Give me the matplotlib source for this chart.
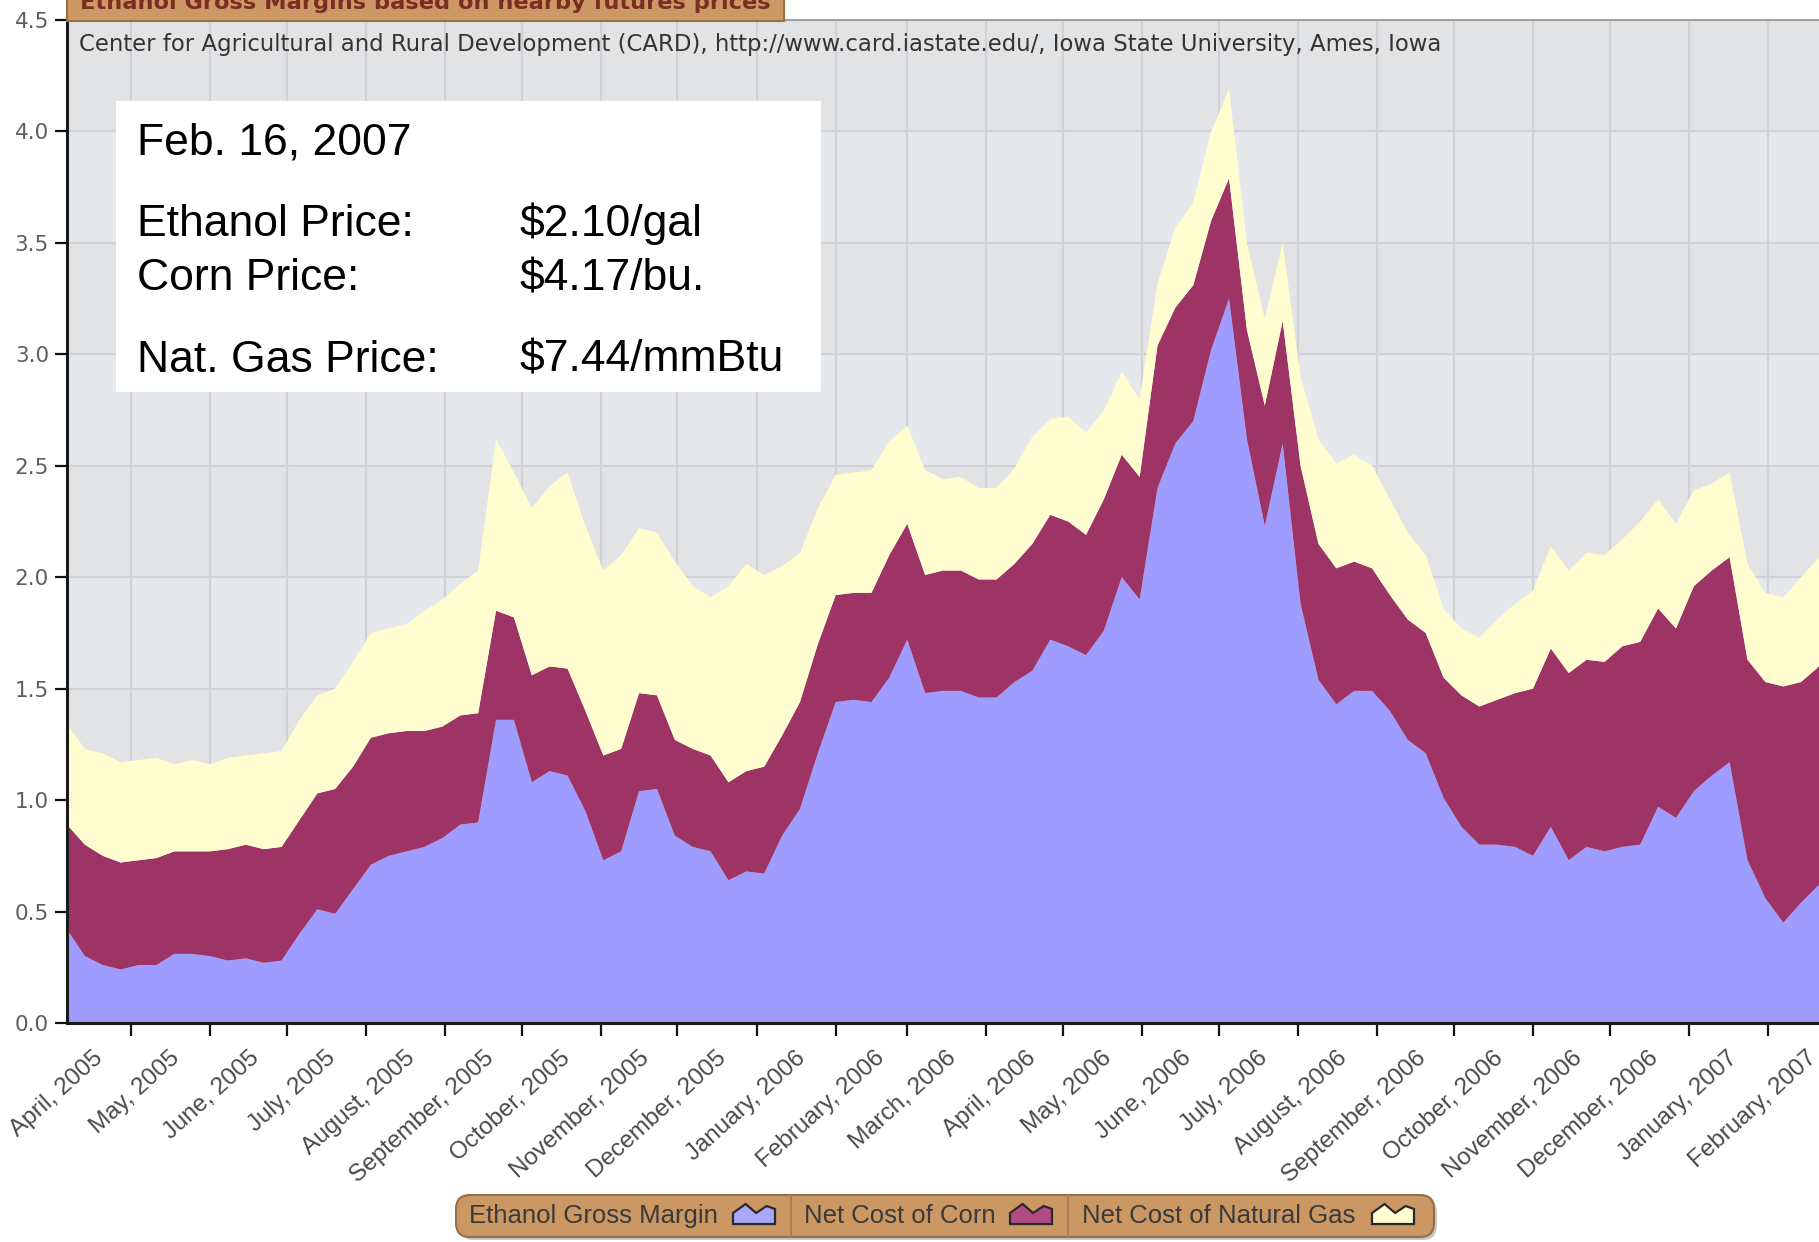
import numpy as np
import pandas as pd
import matplotlib
matplotlib.use('Agg')
import matplotlib.pyplot as plt
from matplotlib.patches import Rectangle, FancyBboxPatch, Polygon
from matplotlib.transforms import IdentityTransform

W, H, DPI = 1819, 1242, 100

# ---------------- data (weekly readings, $/gal) ----------------
dates = pd.date_range('2005-04-06', periods=99, freq='7D')

gross_margin = [0.42, 0.30, 0.26, 0.24, 0.26, 0.26, 0.31, 0.31, 0.30, 0.28,
                0.29, 0.27, 0.28, 0.40, 0.51, 0.49, 0.60, 0.71, 0.75, 0.77,
                0.79, 0.83, 0.89, 0.90, 1.36, 1.36, 1.08, 1.13, 1.11, 0.95,
                0.73, 0.77, 1.04, 1.05, 0.84, 0.79, 0.77, 0.64, 0.68, 0.67,
                0.84, 0.96, 1.21, 1.44, 1.45, 1.44, 1.55, 1.72, 1.48, 1.49,
                1.49, 1.46, 1.46, 1.53, 1.58, 1.72, 1.69, 1.65, 1.76, 2.00,
                1.90, 2.40, 2.60, 2.70, 3.02, 3.25, 2.62, 2.23, 2.60, 1.88,
                1.54, 1.43, 1.49, 1.49, 1.40, 1.27, 1.21, 1.01, 0.88, 0.80,
                0.80, 0.79, 0.75, 0.88, 0.73, 0.79, 0.77, 0.79, 0.80, 0.97,
                0.92, 1.04, 1.11, 1.17, 0.73, 0.56, 0.45, 0.54, 0.62]

corn_cost = [0.47, 0.50, 0.49, 0.48, 0.47, 0.48, 0.46, 0.46, 0.47, 0.50,
             0.51, 0.51, 0.51, 0.51, 0.52, 0.56, 0.55, 0.57, 0.55, 0.54,
             0.52, 0.50, 0.49, 0.49, 0.49, 0.46, 0.48, 0.47, 0.48, 0.45,
             0.47, 0.46, 0.44, 0.42, 0.43, 0.44, 0.43, 0.44, 0.45, 0.48,
             0.45, 0.48, 0.49, 0.48, 0.48, 0.49, 0.55, 0.52, 0.53, 0.54,
             0.54, 0.53, 0.53, 0.53, 0.57, 0.56, 0.56, 0.54, 0.59, 0.55,
             0.55, 0.64, 0.61, 0.61, 0.58, 0.54, 0.49, 0.54, 0.55, 0.62,
             0.61, 0.61, 0.58, 0.55, 0.52, 0.54, 0.54, 0.54, 0.59, 0.62,
             0.65, 0.69, 0.75, 0.80, 0.84, 0.84, 0.85, 0.90, 0.91, 0.89,
             0.85, 0.92, 0.92, 0.92, 0.90, 0.97, 1.06, 0.99, 0.98]

gas_cost = [0.45, 0.43, 0.46, 0.45, 0.45, 0.45, 0.39, 0.41, 0.39, 0.41,
            0.40, 0.43, 0.43, 0.45, 0.44, 0.45, 0.47, 0.47, 0.47, 0.48,
            0.54, 0.57, 0.59, 0.64, 0.77, 0.65, 0.75, 0.81, 0.88, 0.83,
            0.83, 0.87, 0.74, 0.73, 0.80, 0.73, 0.71, 0.88, 0.93, 0.86,
            0.76, 0.67, 0.61, 0.54, 0.54, 0.55, 0.51, 0.44, 0.47, 0.41,
            0.42, 0.41, 0.41, 0.43, 0.48, 0.43, 0.47, 0.46, 0.40, 0.37,
            0.35, 0.28, 0.36, 0.37, 0.40, 0.40, 0.39, 0.39, 0.35, 0.40,
            0.47, 0.47, 0.48, 0.46, 0.43, 0.39, 0.35, 0.31, 0.30, 0.31,
            0.36, 0.40, 0.44, 0.46, 0.46, 0.48, 0.48, 0.48, 0.54, 0.49,
            0.47, 0.43, 0.39, 0.38, 0.43, 0.40, 0.40, 0.47, 0.49]

series_names = ['Ethanol Gross Margin', 'Net Cost of Corn', 'Net Cost of Natural Gas']
series_colors = ['#9F9CFF', '#9E3465', '#FFFDD0']
icon_colors = ['#A9A7F7', '#B24B84', '#FFFDD2']

month_labels = ['April, 2005', 'May, 2005', 'June, 2005', 'July, 2005', 'August, 2005',
                'September, 2005', 'October, 2005', 'November, 2005', 'December, 2005',
                'January, 2006', 'February, 2006', 'March, 2006', 'April, 2006',
                'May, 2006', 'June, 2006', 'July, 2006', 'August, 2006',
                'September, 2006', 'October, 2006', 'November, 2006', 'December, 2006',
                'January, 2007', 'February, 2007']
y_ticks = [0.0, 0.5, 1.0, 1.5, 2.0, 2.5, 3.0, 3.5, 4.0, 4.5]

info_date = 'Feb. 16, 2007'
info_rows = [('Ethanol Price:', '$2.10/gal'),
             ('Corn Price:', '$4.17/bu.'),
             ('Nat. Gas Price:', '$7.44/mmBtu')]

title_text = 'Ethanol Gross Margins based on nearby futures prices'
source_text = ('Center for Agricultural and Rural Development (CARD), '
               'http://www.card.iastate.edu/, Iowa State University, Ames, Iowa')

# ---------------- figure ----------------
fig = plt.figure(figsize=(W / DPI, H / DPI), dpi=DPI)
fig.patch.set_facecolor('white')

ax_left, ax_top, ax_bottom = 67, 20, 1023
ax = fig.add_axes([ax_left / W, 1 - ax_bottom / H, 1 - ax_left / W, (ax_bottom - ax_top) / H])
ax.set_xlim(dates[0], dates[-1])
ax.set_ylim(0, 4.5)

# alternating background bands
for k in range(9):
    ax.axhspan(k * 0.5, k * 0.5 + 0.5, color='#E2E3E5' if k % 2 == 0 else '#E6E9EC',
               lw=0, zorder=0.1)

ax.set_axisbelow(True)
ax.grid(True, which='major', color='#D1D2D5', lw=1.6)

ax.stackplot(dates, gross_margin, corn_cost, gas_cost, colors=series_colors,
             lw=0, zorder=2)

# ticks
month_starts = pd.date_range('2005-05-01', '2007-02-01', freq='MS')
label_pos = pd.date_range('2005-04-01', '2007-02-01', freq='MS') + pd.Timedelta(days=18)
ax.set_xticks(month_starts)
ax.set_xticklabels([''] * len(month_starts))
ax.set_xticks(label_pos, minor=True)
ax.set_xticklabels(month_labels, minor=True, fontsize=17.5, color='#4A4A4A',
                   family='Liberation Sans')
for lbl in ax.get_xticklabels(minor=True):
    lbl.set_rotation(42)
    lbl.set_ha('right')
    lbl.set_va('center')
    lbl.set_rotation_mode('anchor')
ax.tick_params(axis='x', which='major', direction='out', length=9, width=1.6, color='#111')
ax.tick_params(axis='x', which='minor', length=0, pad=23)
ax.xaxis.grid(False, which='minor')

ax.set_yticks(y_ticks)
ax.set_yticklabels([f'{v:.1f}' for v in y_ticks], fontsize=15.5, color='#5E5E5E')
ax.tick_params(axis='y', direction='out', length=9, width=1.6, color='#111', pad=4)

for side in ['left', 'bottom']:
    ax.spines[side].set_color('#1A1A1A')
    ax.spines[side].set_linewidth(2.2)
    ax.spines[side].set_zorder(5)
ax.spines['top'].set_color('#A0A0A0')
ax.spines['top'].set_linewidth(1.5)
ax.spines['right'].set_visible(False)

# source line inside plot
fig.text(79 / W, 1 - 45 / H, source_text, fontsize=16.4, color='#333333',
         va='center', ha='left', family='DejaVu Sans', zorder=5)

# title tab (cut at top of the picture, as in the original)
tab = Rectangle((67, H - 21), 717, 30, transform=IdentityTransform(),
                facecolor='#CC9966', edgecolor='#9C6E42', lw=1.5, zorder=6)
fig.patches.append(tab)
fig.text(80, H - 9, title_text, transform=IdentityTransform(), fontsize=16.2,
         weight='bold', color='#7A2E22', va='baseline', ha='left', zorder=7)

# info box
box = Rectangle((116, H - 392), 705, 291, transform=IdentityTransform(),
                facecolor='white', edgecolor='none', zorder=6)
fig.patches.append(box)
fig.text(137, H - 143, info_date, transform=IdentityTransform(), fontsize=32,
         family='Liberation Sans', color='black', va='center', zorder=7)
row_y = [224, 279, 360]
for (lab, val), yy in zip(info_rows, row_y):
    fig.text(137, H - yy, lab, transform=IdentityTransform(), fontsize=32,
             family='Liberation Sans', color='black', va='center', zorder=7)
    fig.text(520, H - yy, val, transform=IdentityTransform(), fontsize=32,
             family='Liberation Sans', color='black', va='center', zorder=7)

# legend
lx0, ly0, lw_, lh = 456, 5, 978, 42
shadow = FancyBboxPatch((lx0 + 3, ly0 - 3), lw_, lh, boxstyle='round,pad=0,rounding_size=14',
                        transform=IdentityTransform(), facecolor='#C8C8C8',
                        edgecolor='none', zorder=6)
leg = FancyBboxPatch((lx0, ly0), lw_, lh, boxstyle='round,pad=0,rounding_size=14',
                     transform=IdentityTransform(), facecolor='#CB9763',
                     edgecolor='#93704C', lw=1.5, zorder=7)
fig.patches.extend([shadow, leg])
for xd in [791, 1068]:
    fig.lines.append(plt.Line2D([xd, xd], [ly0 + 1, ly0 + lh - 1], transform=IdentityTransform(),
                                color='#A98057', lw=1.5, zorder=8))
text_x = [469, 804, 1082]
icon_x = [733, 1010, 1372]
shape = np.array([(0, 0), (0, 0.55), (0.3, 1.0), (0.55, 0.55), (0.8, 0.9), (1, 0.75), (1, 0)])
for name, tx, ix, ic in zip(series_names, text_x, icon_x, icon_colors):
    fig.text(tx, ly0 + lh / 2, name, transform=IdentityTransform(), fontsize=18.5,
             family='Liberation Sans', color='#3A3A3A', va='center', ha='left', zorder=8)
    pts = np.column_stack([ix + shape[:, 0] * 42, 18 + shape[:, 1] * 20])
    fig.patches.append(Polygon(pts, closed=True, transform=IdentityTransform(),
                               facecolor=ic, edgecolor='#2A2A2A', lw=1.6, zorder=8))

fig.savefig('out.png', dpi=DPI, facecolor='white')
